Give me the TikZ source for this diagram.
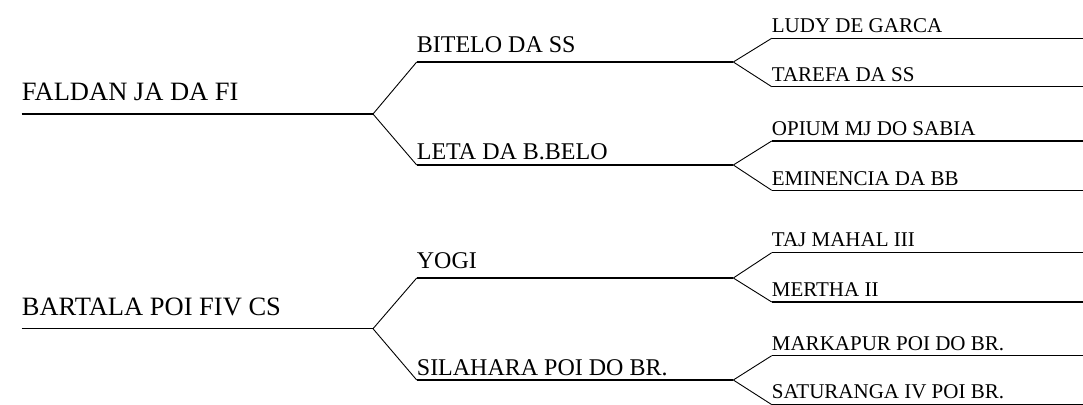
\documentclass[tikz,border=0pt]{standalone}
\usepackage{fontspec}
\setmainfont{Liberation Serif}
\begin{document}
\begin{tikzpicture}[x=1pt,y=-1pt,
  lvA/.style={anchor=base west,inner sep=0pt,font=\fontsize{26.5}{30}\selectfont},
  lvB/.style={anchor=base west,inner sep=0pt,font=\fontsize{24}{28}\selectfont},
  lvC/.style={anchor=base west,inner sep=0pt,font=\fontsize{21}{25}\selectfont},
  mainline/.style={line width=1.5pt},
  subline/.style={line width=1.1pt},
  fork/.style={line width=0.9pt,line join=round}]
\useasboundingbox (0,0) rectangle (1083,404);
% ---------- top tree ----------
\coordinate (r1) at (21.7,114);
\coordinate (f1) at (373,114);
\coordinate (a1) at (416.7,62);   \coordinate (fa1) at (733.3,62);
\coordinate (a2) at (416.7,165);  \coordinate (fa2) at (733.3,165);
\coordinate (c1) at (771.7,38.3); \coordinate (e1) at (1083,38.3);
\coordinate (c2) at (771.7,86.7); \coordinate (e2) at (1083,86.7);
\coordinate (c3) at (771.7,141);  \coordinate (e3) at (1083,141);
\coordinate (c4) at (771.7,190.3);\coordinate (e4) at (1083,190.3);
\node[lvA] (n1) at (21.7,100) {FALDAN JA DA FI};
\node[lvB] (n2) at (416.7,52.3) {BITELO DA SS};
\node[lvB] (n3) at (416.7,159) {LETA DA B.BELO};
\node[lvC] (n4) at (771.7,32.3) {LUDY DE GARCA};
\node[lvC] (n5) at (771.7,81.7) {TAREFA DA SS};
\node[lvC] (n6) at (771.7,135.7) {OPIUM MJ DO SABIA};
\node[lvC] (n7) at (771.7,185.5) {EMINENCIA DA BB};
\draw[mainline] (r1) -- (f1);
\draw[mainline] (a1) -- (fa1);
\draw[mainline] (a2) -- (fa2);
\draw[fork] (a1) -- (f1) -- (a2);
\draw[fork] (c1) -- (fa1) -- (c2);
\draw[fork] (c3) -- (fa2) -- (c4);
\draw[subline] (c1) -- (e1);
\draw[subline] (c2) -- (e2);
\draw[subline] (c3) -- (e3);
\draw[subline] (c4) -- (e4);
% ---------- bottom tree ----------
\coordinate (r2) at (21.7,328.7);
\coordinate (f2) at (373,328.7);
\coordinate (b1) at (416.7,278);  \coordinate (fb1) at (733.3,278);
\coordinate (b2) at (416.7,380);  \coordinate (fb2) at (733.3,380);
\coordinate (d1) at (771.7,252.7);\coordinate (g1) at (1083,252.7);
\coordinate (d2) at (771.7,302);  \coordinate (g2) at (1083,302);
\coordinate (d3) at (771.7,355.7);\coordinate (g3) at (1083,355.7);
\coordinate (d4) at (771.7,404.6);\coordinate (g4) at (1083,404.6);
\node[lvA] (m1) at (21.7,315) {BARTALA POI FIV CS};
\node[lvB] (m2) at (416.7,268.3) {YOGI};
\node[lvB] (m3) at (416.7,375) {SILAHARA POI DO BR.};
\node[lvC] (m4) at (771.7,246.7) {TAJ MAHAL III};
\node[lvC] (m5) at (771.7,296.7) {MERTHA II};
\node[lvC] (m6) at (771.7,350) {MARKAPUR POI DO BR.};
\node[lvC] (m7) at (771.7,398.3) {SATURANGA IV POI BR.};
\draw[mainline] (r2) -- (f2);
\draw[mainline] (b1) -- (fb1);
\draw[mainline] (b2) -- (fb2);
\draw[fork] (b1) -- (f2) -- (b2);
\draw[fork] (d1) -- (fb1) -- (d2);
\draw[fork] (d3) -- (fb2) -- (d4);
\draw[subline] (d1) -- (g1);
\draw[subline] (d2) -- (g2);
\draw[subline] (d3) -- (g3);
\draw[subline] (d4) -- (g4);
\end{tikzpicture}
\end{document}
